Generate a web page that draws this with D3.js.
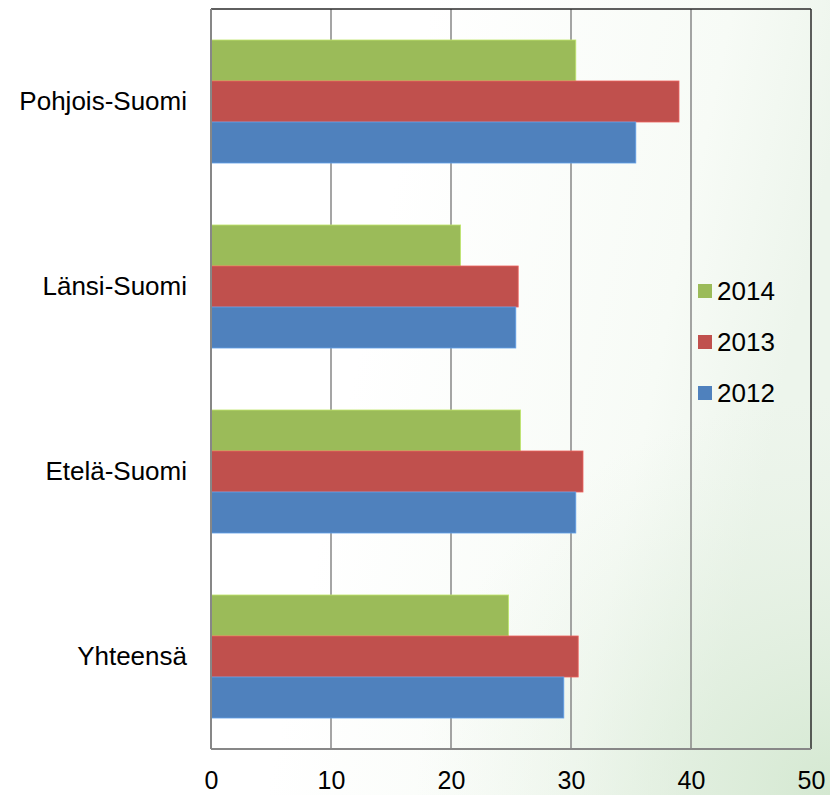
<!DOCTYPE html>
<html>
<head>
<meta charset="utf-8">
<script src="https://cdn.jsdelivr.net/npm/d3@7"></script>
<style>
  body { margin: 0; background: #fff; }
  svg text { font-family: "Liberation Sans", Arial, sans-serif; fill: #000; }
</style>
</head>
<body>
<div id="chart"></div>
<script>
// chart data
var regions = ["Pohjois-Suomi", "Länsi-Suomi", "Etelä-Suomi", "Yhteensä"];
var years = ["2014", "2013", "2012"];
var values2014 = [30.4, 20.8, 25.8, 24.8];
var values2013 = [39.0, 25.6, 31.0, 30.6];
var values2012 = [35.4, 25.4, 30.4, 29.4];
var xTicks = [0, 10, 20, 30, 40, 50];

var colors = {"2014": "#9bbb59", "2013": "#c0504d", "2012": "#4f81bd"};
var series = {"2014": values2014, "2013": values2013, "2012": values2012};

var W = 830, H = 795;
var margin = {top: 9, left: 211, right: 19, bottom: 46};
var width = W - margin.left - margin.right,
    height = H - margin.top - margin.bottom;

var svg = d3.select("#chart").append("svg")
    .attr("width", W)
    .attr("height", H);

// background: white fading to pale green on the right
var defs = svg.append("defs");
var lg = defs.append("linearGradient").attr("id", "bg").attr("x1", "0").attr("y1", "0").attr("x2", "1").attr("y2", "0.2");
lg.append("stop").attr("offset", "0.5").attr("stop-color", "#ffffff");
lg.append("stop").attr("offset", "0.85").attr("stop-color", "#f7fbf6");
lg.append("stop").attr("offset", "1").attr("stop-color", "#edf5ec");
var rg = defs.append("radialGradient").attr("id", "bg2")
    .attr("cx", "1").attr("cy", "1").attr("r", "0.5");
rg.append("stop").attr("offset", "0").attr("stop-color", "#d4e8d1").attr("stop-opacity", 1);
rg.append("stop").attr("offset", "1").attr("stop-color", "#e6f1e4").attr("stop-opacity", 0);

svg.append("rect").attr("width", W).attr("height", H).attr("fill", "url(#bg)");
svg.append("rect").attr("width", W).attr("height", H).attr("fill", "url(#bg2)");

var g = svg.append("g").attr("transform", "translate(" + margin.left + "," + margin.top + ")");

var x = d3.scaleLinear().domain([0, 50]).range([0, width]);
var y0 = d3.scaleBand().domain(regions).range([0, height])
    .paddingInner(0.335).paddingOuter(0.1675);
var y1 = d3.scaleBand().domain(years).range([0, y0.bandwidth()]);

// gridlines
g.append("g")
    .selectAll("line")
    .data(xTicks.slice(1, -1))
    .enter().append("line")
    .attr("x1", function(d) { return x(d); })
    .attr("x2", function(d) { return x(d); })
    .attr("y1", 0)
    .attr("y2", height)
    .attr("stroke", "#878787")
    .attr("stroke-width", 1.5);

// bars
var groups = g.append("g")
    .selectAll("g")
    .data(regions)
    .enter().append("g")
    .attr("transform", function(d) { return "translate(0," + y0(d) + ")"; });

groups.selectAll("rect")
    .data(function(d, i) { return years.map(function(yr) { return {key: yr, value: series[yr][i]}; }); })
    .enter().append("rect")
    .attr("x", 0)
    .attr("y", function(d) { return y1(d.key); })
    .attr("width", function(d) { return x(d.value); })
    .attr("height", y1.bandwidth())
    .attr("fill", function(d) { return colors[d.key]; })
    .attr("stroke", function(d) { return d3.color(colors[d.key]).brighter(0.6); })
    .attr("stroke-width", 0.8);

// frame: top and right dark, left and bottom gray
g.append("line").attr("x1", 0).attr("x2", width).attr("y1", 0).attr("y2", 0)
    .attr("stroke", "#2a2a2a").attr("stroke-width", 1.5);
g.append("line").attr("x1", width).attr("x2", width).attr("y1", 0).attr("y2", height)
    .attr("stroke", "#2a2a2a").attr("stroke-width", 1.5);
g.append("line").attr("x1", 0).attr("x2", 0).attr("y1", 0).attr("y2", height)
    .attr("stroke", "#878787").attr("stroke-width", 2);
g.append("line").attr("x1", 0).attr("x2", width).attr("y1", height).attr("y2", height)
    .attr("stroke", "#878787").attr("stroke-width", 2);

// x axis labels
var xAxis = g.append("g")
    .attr("transform", "translate(0," + height + ")")
    .call(d3.axisBottom(x).tickValues(xTicks).tickSize(0).tickPadding(22));
xAxis.select(".domain").remove();
xAxis.selectAll("text").style("font-size", "25px").style("fill", "#000");

// y axis labels
var yAxis = g.append("g")
    .call(d3.axisLeft(y0).tickSize(0).tickPadding(24));
yAxis.select(".domain").remove();
yAxis.selectAll("text").style("font-size", "26px").style("fill", "#000");

// legend
var legend = svg.append("g")
    .selectAll("g")
    .data(years)
    .enter().append("g")
    .attr("transform", function(d, i) { return "translate(698," + (291 + i * 51) + ")"; });

legend.append("rect")
    .attr("x", 0)
    .attr("y", -7)
    .attr("width", 14)
    .attr("height", 14)
    .attr("fill", function(d) { return colors[d]; });

legend.append("text")
    .attr("x", 19)
    .attr("y", 0)
    .attr("dy", "0.36em")
    .style("font-size", "26px")
    .text(function(d) { return d; });
</script>
</body>
</html>
